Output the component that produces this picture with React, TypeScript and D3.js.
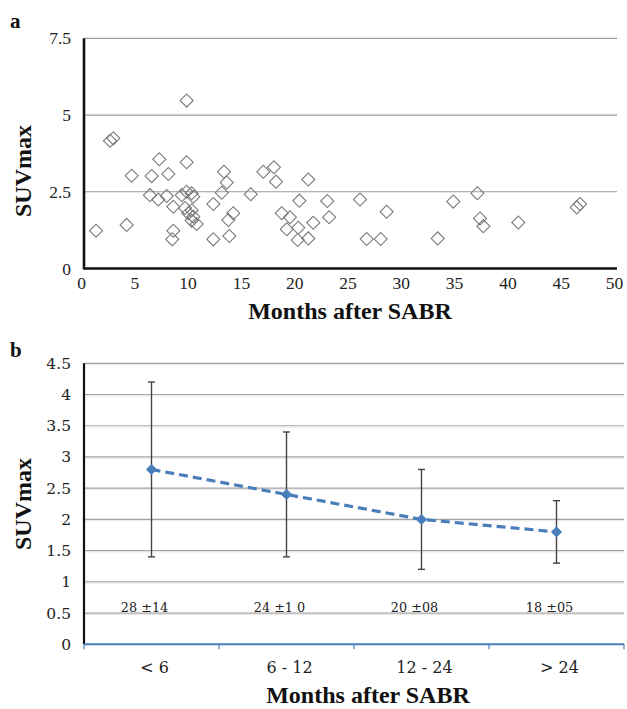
import React from "react";
import * as d3 from "d3";

// Panel a: months after SABR vs SUVmax
const months = [1.13, 2.44, 2.75, 4.0, 4.47, 6.35, 6.19, 7.06, 6.97, 7.76, 7.91, 8.38, 8.38, 8.28, 9.63, 9.63, 9.17, 9.63, 9.47, 10.1, 10.25, 9.78, 10.1, 10.25, 10.1, 10.57, 12.13, 12.13, 12.92, 13.13, 13.39, 13.54, 14.0, 13.63, 15.64, 16.82, 17.82, 18.01, 18.55, 19.32, 19.02, 20.2, 20.1, 20.05, 21.04, 21.04, 21.51, 22.82, 23.0, 25.89, 26.52, 27.83, 28.39, 33.18, 34.64, 36.9, 37.15, 37.46, 40.74, 46.22, 46.53];
const suv = [1.23, 4.16, 4.24, 1.42, 3.02, 3.01, 2.39, 3.56, 2.25, 2.36, 3.08, 2.01, 1.23, 0.95, 5.47, 3.46, 2.39, 2.5, 1.97, 2.45, 2.34, 1.8, 1.9, 1.69, 1.56, 1.45, 2.1, 0.95, 2.47, 3.15, 2.8, 1.58, 1.8, 1.06, 2.42, 3.15, 3.3, 2.83, 1.8, 1.67, 1.28, 2.21, 1.33, 0.93, 2.9, 0.98, 1.49, 2.2, 1.67, 2.25, 0.96, 0.96, 1.85, 0.98, 2.18, 2.45, 1.63, 1.38, 1.5, 1.99, 2.1];
const xTicksA = [0, 5, 10, 15, 20, 25, 30, 35, 40, 45, 50];
const yTicksA = [0, 2.5, 5, 7.5];

// Panel b: mean SUVmax by interval
const categories = ["< 6", "6 - 12", "12 - 24", "> 24"];
const means = [2.8, 2.4, 2.0, 1.8];
const lows = [1.4, 1.4, 1.2, 1.3];
const highs = [4.2, 3.4, 2.8, 2.3];
const dataLabels = ["28 ±14", "24 ±1 0", "20 ±08", "18 ±05"];
const yTicksB = [0, 0.5, 1, 1.5, 2, 2.5, 3, 3.5, 4, 4.5];

const serif = "'Liberation Serif', 'Times New Roman', serif";
const wideSerif = "'DejaVu Serif', serif";

export default function App() {
  const xa = d3.scaleLinear().domain([0, 50]).range([84, 617]);
  const ya = d3.scaleLinear().domain([0, 7.5]).range([268.5, 38.3]);
  const xb = d3.scaleBand().domain(categories).range([84, 624]).padding(0);
  const yb = d3.scaleLinear().domain([0, 4.5]).range([644.3, 363.3]);

  const diamondA = d3.symbol().type(d3.symbolSquare).size(85)();
  const diamondB = d3.symbol().type(d3.symbolSquare).size(62)();
  const cx = (c: string) => (xb(c) as number) + xb.bandwidth() / 2;
  const line = d3
    .line<number>()
    .x((_, i) => cx(categories[i]))
    .y((d) => yb(d));

  const boundaries = [...categories.map((c) => xb(c) as number), 624];

  return (
    <svg width={627} height={709} style={{ position: "absolute", left: 0, top: 0, background: "#fff" }} fontFamily={serif}>
      <rect x={0} y={0} width={627} height={709} fill="#fff" />
      {/* Panel a */}
      <text x={10} y={28} fontSize={21} fontWeight="bold" fill="#111">a</text>
      {yTicksA.filter((t) => t > 0).map((t) => (
        <line key={t} x1={xa(0)} x2={xa(50)} y1={ya(t)} y2={ya(t)} stroke="#9a9a9a" strokeWidth={1.2} />
      ))}
      {months.map((m, i) => (
        <path key={i} d={diamondA} transform={`translate(${xa(m)},${ya(suv[i])}) rotate(45)`} fill="none" stroke="#7a7a7a" strokeWidth={1.1} />
      ))}
      <line x1={xa(0)} x2={xa(0)} y1={ya(7.5)} y2={ya(0) + 1} stroke="#111" strokeWidth={2.6} />
      <line x1={xa(0)} x2={xa(50)} y1={ya(0)} y2={ya(0)} stroke="#111" strokeWidth={2.6} />
      {yTicksA.map((t) => (
        <text key={t} x={71} y={ya(t) + 6} fontSize={17.5} textAnchor="end" fill="#222">{t}</text>
      ))}
      {xTicksA.map((t) => (
        <text key={t} x={xa(t) - 2.5} y={289} fontSize={17.5} textAnchor="middle" fill="#222">{t}</text>
      ))}
      <text x={350} y={319} fontSize={24} fontWeight="bold" textAnchor="middle" fill="#111">Months after SABR</text>
      <text transform={`translate(31,171) rotate(-90)`} fontSize={24} fontWeight="bold" textAnchor="middle" fill="#111">SUVmax</text>

      {/* Panel b */}
      <text x={10} y={357} fontSize={21} fontWeight="bold" fill="#111">b</text>
      {yTicksB.filter((t) => t > 0).map((t) => (
        <g key={t}>
          <line x1={84} x2={624} y1={yb(t)} y2={yb(t)} stroke="#a3a3a3" strokeWidth={1.2} />
          <line x1={84} x2={624} y1={yb(t) + 1.3} y2={yb(t) + 1.3} stroke="#e6e6e6" strokeWidth={1} />
        </g>
      ))}
      {categories.map((c, i) => (
        <g key={c}>
          <line x1={cx(c)} x2={cx(c)} y1={yb(highs[i])} y2={yb(lows[i])} stroke="#444" strokeWidth={1.4} />
          <line x1={cx(c) - 3.5} x2={cx(c) + 3.5} y1={yb(highs[i])} y2={yb(highs[i])} stroke="#444" strokeWidth={1.4} />
          <line x1={cx(c) - 3.5} x2={cx(c) + 3.5} y1={yb(lows[i])} y2={yb(lows[i])} stroke="#444" strokeWidth={1.4} />
        </g>
      ))}
      <path d={line(means) as string} fill="none" stroke="#4a7ebb" strokeWidth={3.2} strokeDasharray="9,5" />
      {categories.map((c, i) => (
        <path key={c} d={diamondB} transform={`translate(${cx(c)},${yb(means[i])}) rotate(45)`} fill="#4a7ebb" />
      ))}
      {categories.map((c, i) => (
        <text key={c} x={cx(c) - 7} y={yb(0.6) + 5} fontSize={12.8} fontFamily={wideSerif} textAnchor="middle" fill="#222">{dataLabels[i]}</text>
      ))}
      <line x1={84} x2={84} y1={yb(4.5)} y2={yb(0)} stroke="#111" strokeWidth={2.2} />
      <line x1={84} x2={624} y1={yb(0)} y2={yb(0)} stroke="#4a7ebb" strokeWidth={2} />
      {boundaries.map((b, i) => (
        <line key={i} x1={b} x2={b} y1={yb(0)} y2={yb(0) + 5} stroke="#4a7ebb" strokeWidth={1.2} />
      ))}
      {yTicksB.map((t) => (
        <text key={t} x={71} y={yb(t) + 5.5} fontSize={15.5} fontFamily={wideSerif} textAnchor="end" fill="#222">{t}</text>
      ))}
      {categories.map((c) => (
        <text key={c} x={cx(c) + 3} y={673} fontSize={16} fontFamily={wideSerif} textAnchor="middle" fill="#222">{c}</text>
      ))}
      <text x={368} y={703} fontSize={24} fontWeight="bold" textAnchor="middle" fill="#111">Months after SABR</text>
      <text transform={`translate(31,504) rotate(-90)`} fontSize={24} fontWeight="bold" textAnchor="middle" fill="#111">SUVmax</text>
    </svg>
  );
}
